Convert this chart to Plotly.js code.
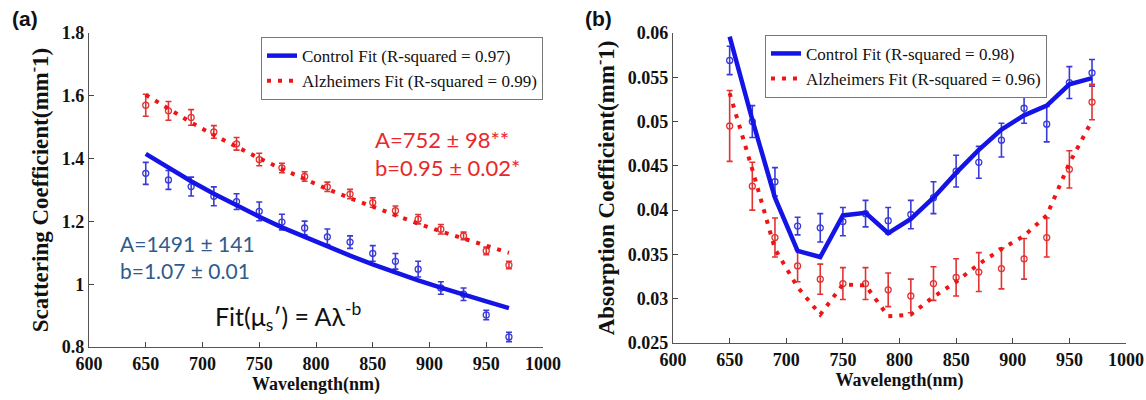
<!DOCTYPE html>
<html>
<head>
<meta charset="utf-8">
<script src="https://cdn.plot.ly/plotly-3.0.1.min.js"></script>
<style>html,body{margin:0;padding:0;background:#fff}#chart{width:1146px;height:400px}</style>
</head>
<body>
<div id="chart"></div>
<script>
// ---------- data ----------
const wavelength = [650,670,690,710,730,750,770,790,810,830,850,870,890,910,930,950,970];

// Panel (a): scattering coefficient (mm^-1)
const scatControl    = [1.353,1.332,1.311,1.280,1.263,1.232,1.198,1.179,1.151,1.134,1.098,1.073,1.048,0.988,0.968,0.902,0.832];
const scatControlErr = [0.035,0.030,0.030,0.030,0.025,0.030,0.025,0.022,0.025,0.020,0.025,0.025,0.025,0.020,0.020,0.015,0.015];
const scatAlz        = [1.570,1.552,1.531,1.485,1.447,1.397,1.370,1.343,1.310,1.287,1.260,1.234,1.207,1.175,1.154,1.106,1.061];
const scatAlzErr     = [0.035,0.030,0.025,0.020,0.020,0.020,0.015,0.015,0.015,0.015,0.015,0.015,0.015,0.015,0.012,0.012,0.012];
const scatControlFit = [1.415,1.370,1.328,1.288,1.250,1.215,1.181,1.150,1.119,1.091,1.063,1.037,1.012,0.989,0.966,0.945,0.924];
const scatAlzFit     = [1.603,1.558,1.515,1.475,1.437,1.401,1.367,1.334,1.303,1.274,1.246,1.219,1.193,1.168,1.145,1.122,1.100];

// Panel (b): absorption coefficient (mm^-1)
const absControl    = [0.0569,0.0500,0.0432,0.0382,0.0380,0.0387,0.0396,0.0388,0.0395,0.0414,0.0444,0.0454,0.0479,0.0515,0.0497,0.0544,0.0555];
const absControlErr = [0.0016,0.0018,0.0016,0.0010,0.0016,0.0016,0.0015,0.0015,0.0016,0.0018,0.0018,0.0018,0.0019,0.0017,0.0020,0.0018,0.0015];
const absAlz        = [0.0495,0.0427,0.0369,0.0337,0.0322,0.0317,0.0317,0.0310,0.0303,0.0317,0.0324,0.0330,0.0334,0.0345,0.0369,0.0446,0.0522];
const absAlzErr     = [0.0040,0.0027,0.0022,0.0018,0.0017,0.0018,0.0018,0.0019,0.0019,0.0019,0.0021,0.0022,0.0023,0.0023,0.0022,0.0021,0.0020];
const absControlFit = [0.0596,0.0502,0.0414,0.0354,0.0347,0.0394,0.0397,0.0374,0.0390,0.0414,0.0442,0.0468,0.0491,0.0507,0.0518,0.0542,0.0549];
const absAlzFit     = [0.0532,0.0446,0.0356,0.0313,0.0282,0.0316,0.0315,0.0280,0.0282,0.0302,0.0319,0.0339,0.0356,0.0371,0.0394,0.0453,0.0501];

// ticks
const xTickVals = [600,650,700,750,800,850,900,950,1000];
const xTickText = ['600','650','700','750','800','850','900','950','1000'];
const yaTickVals = [0.8,1.0,1.2,1.4,1.6,1.8];
const yaTickText = ['0.8','1','1.2','1.4','1.6','1.8'];
const ybTickVals = [0.025,0.03,0.035,0.04,0.045,0.05,0.055,0.06];
const ybTickText = ['0.025','0.03','0.035','0.04','0.045','0.05','0.055','0.06'];

// legend labels / annotation texts
const legendA = ['Control Fit (R-squared = 0.97)','Alzheimers Fit (R-squared = 0.99)'];
const legendB = ['Control Fit (R-squared = 0.98)','Alzheimers Fit (R-squared = 0.96)'];

// ---------- styles ----------
const BLUE = '#1414e6', RED = '#f01414';
const BLUE_PT = '#3a3ad8', RED_PT = '#e03434';
const serif = 'Liberation Serif';
const bold = arr => arr.map(t => '<b>' + t + '</b>');

function pts(y, err, color, xa, ya) {
  return {x: wavelength, y: y, xaxis: xa, yaxis: ya, type: 'scatter', mode: 'markers', showlegend: false,
    marker: {symbol: 'circle-open', size: 6, color: color, line: {width: 1.3, color: color}},
    error_y: {type: 'data', array: err, visible: true, color: color, thickness: 1.6, width: 3},
    hoverinfo: 'skip'};
}
function fitLine(y, name, color, dash, width, xa, ya, leg) {
  return {x: wavelength, y: y, xaxis: xa, yaxis: ya, type: 'scatter', mode: 'lines', name: name,
    legend: leg, line: {color: color, width: width, dash: dash}, hoverinfo: 'skip'};
}

const data = [
  pts(scatControl, scatControlErr, BLUE_PT, 'x', 'y'),
  pts(scatAlz, scatAlzErr, RED_PT, 'x', 'y'),
  fitLine(scatControlFit, legendA[0], BLUE, 'solid', 4.5, 'x', 'y', 'legend'),
  fitLine(scatAlzFit, legendA[1], RED, '4px,7px', 4, 'x', 'y', 'legend'),
  pts(absControl, absControlErr, BLUE_PT, 'x2', 'y2'),
  pts(absAlz, absAlzErr, RED_PT, 'x2', 'y2'),
  fitLine(absControlFit, legendB[0], BLUE, 'solid', 4.5, 'x2', 'y2', 'legend2'),
  fitLine(absAlzFit, legendB[1], RED, '4px,7px', 4, 'x2', 'y2', 'legend2')
];

const tickFont = {family: serif, size: 18, color: '#111', weight: 'bold'};
function xax(domain, anchor) {
  return {domain: domain, anchor: anchor, range: [600, 1000], tickvals: xTickVals, ticktext: bold(xTickText),
    ticks: 'inside', ticklen: 5, tickcolor: '#444', showline: true, linecolor: '#555', linewidth: 1.2,
    showgrid: false, zeroline: false, tickfont: tickFont,
    title: {text: '<b>Wavelength(nm)</b>', font: {family: serif, size: 18, color: '#111'}, standoff: 4}};
}
function yax(range, vals, text, title, anchor, domain, standoff) {
  return {domain: domain, anchor: anchor, range: range, tickvals: vals, ticktext: bold(text),
    ticks: 'inside', ticklen: 5, tickcolor: '#444', showline: true, linecolor: '#555', linewidth: 1.2,
    showgrid: false, zeroline: false, tickfont: tickFont,
    title: {text: '<b>' + title + '</b>', font: {family: serif, size: 23, color: '#111'}, standoff: standoff}};
}
const legendStyle = {bgcolor: '#fff', bordercolor: '#777', borderwidth: 1,
  font: {family: serif, size: 17, color: '#111'}, itemwidth: 30, tracegroupgap: 0};

const calibri = 'Lato, Carlito, sans-serif';
const layout = {
  width: 1146, height: 400,
  margin: {l: 89, r: 20, t: 33, b: 53},
  paper_bgcolor: '#fff', plot_bgcolor: '#fff',
  xaxis: xax([0, 0.4378], 'y'),
  yaxis: yax([0.8, 1.8], yaTickVals, yaTickText, 'Scattering Coefficient(mm<sup>-</sup>1)', 'x', [0, 1], 6),
  xaxis2: xax([0.5632, 1], 'y2'),
  yaxis2: yax([0.025, 0.06], ybTickVals, ybTickText, 'Absorption Coefficient(mm<sup>-</sup>1)', 'x2', [0.013, 1], 6),
  legend: Object.assign({x: 0.4378, xanchor: 'right', y: 0.987, yanchor: 'top'}, legendStyle),
  legend2: Object.assign({x: 0.9238, xanchor: 'right', y: 0.994, yanchor: 'top'}, legendStyle),
  annotations: [
    {xref: 'paper', yref: 'paper', x: -0.076, y: 1.045, xanchor: 'left', yanchor: 'middle', showarrow: false,
     text: '<b>(a)</b>', font: {family: 'Liberation Sans, Arial, sans-serif', size: 21, color: '#111'}},
    {xref: 'paper', yref: 'paper', x: 0.4763, y: 1.045, xanchor: 'left', yanchor: 'middle', showarrow: false,
     text: '<b>(b)</b>', font: {family: 'Liberation Sans, Arial, sans-serif', size: 21, color: '#111'}},
    {xref: 'x', yref: 'y', x: 850, y: 1.462, xanchor: 'left', yanchor: 'middle', showarrow: false,
     text: 'A=752 ± 98**', font: {family: calibri, size: 22, color: '#e8282a'}},
    {xref: 'x', yref: 'y', x: 850, y: 1.373, xanchor: 'left', yanchor: 'middle', showarrow: false,
     text: 'b=0.95 ± 0.02*', font: {family: calibri, size: 22, color: '#e8282a'}},
    {xref: 'x', yref: 'y', x: 625.5, y: 1.131, xanchor: 'left', yanchor: 'middle', showarrow: false,
     text: 'A=1491 ± 141', font: {family: calibri, size: 21, color: '#2e5c8c'}},
    {xref: 'x', yref: 'y', x: 625.5, y: 1.045, xanchor: 'left', yanchor: 'middle', showarrow: false,
     text: 'b=1.07 ± 0.01', font: {family: calibri, size: 21, color: '#2e5c8c'}},
    {xref: 'x', yref: 'y', x: 709, y: 0.896, xanchor: 'left', yanchor: 'middle', showarrow: false,
     text: 'Fit(μ<sub>s</sub>′) = Aλ<sup>-b</sup>', font: {family: calibri, size: 25, color: '#111'}}
  ]
};

Plotly.newPlot('chart', data, layout, {staticPlot: true, displayModeBar: false});
</script>
</body>
</html>
